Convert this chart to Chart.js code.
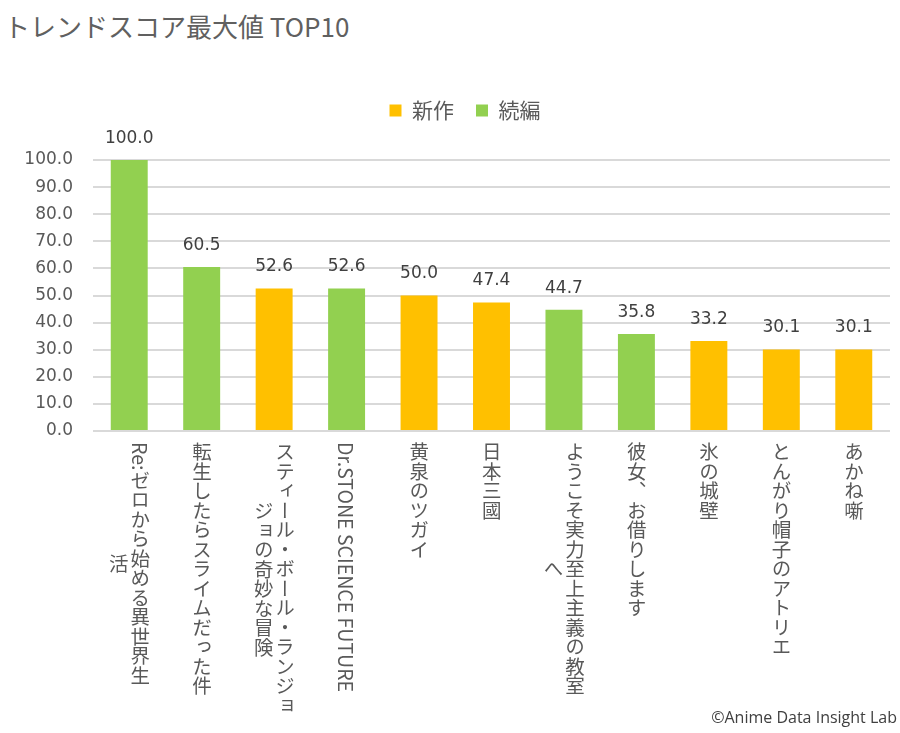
<!DOCTYPE html>
<html lang="ja">
<head>
<meta charset="utf-8">
<script src="https://cdn.jsdelivr.net/npm/chart.js@4"></script>
<style>
    html, body { margin: 0; padding: 0; background: #fff; }
    body { width: 900px; height: 733px; position: relative; overflow: hidden; font-family: "Noto Sans CJK JP", "Noto Sans", sans-serif; }
    #chart-wrap { position: absolute; left: 0; top: 0; width: 900px; height: 733px; }
    .title { position: absolute; left: 4px; top: 7px; font-size: 26px; color: #606060; white-space: nowrap; }
    .cat-label {
        position: absolute;
        top: 442px;
        writing-mode: vertical-rl;
        display: inline-block;
        white-space: nowrap;
        text-align: center;
        font-size: 19.5px;
        line-height: 1.1;
        color: #595959;
        transform: translateX(-50%);
    }
    .credit { position: absolute; right: 3px; top: 706px; font-size: 16px; color: #404040; font-family: "Open Sans", "Noto Sans", sans-serif; white-space: nowrap; }
</style>
</head>
<body>
<div class="title">トレンドスコア最大値 TOP10</div>
<div id="chart-wrap"><canvas id="chart" width="900" height="733"></canvas></div>
<div id="labels"></div>
<div class="credit">©Anime Data Insight Lab</div>

<script>
const categories = [
    ["Re:ゼロから始める異世界生", "活"],
    ["転生したらスライムだった件"],
    ["スティール・ボール・ランジョ", "ジョの奇妙な冒険"],
    ["Dr.STONE SCIENCE FUTURE"],
    ["黄泉のツガイ"],
    ["日本三國"],
    ["ようこそ実力至上主義の教室", "へ"],
    ["彼女、お借りします"],
    ["氷の城壁"],
    ["とんがり帽子のアトリエ"],
    ["あかね噺"],
];
const newSeries    = [null, null, 52.6, null, 50.0, 47.4, null, null, 33.2, 30.1, 30.1];
const sequelSeries = [100.0, 60.5, null, 52.6, null, null, 44.7, 35.8, null, null, null];
const yTicks = [0, 10, 20, 30, 40, 50, 60, 70, 80, 90, 100];

const ORANGE = "#FFC000";
const GREEN = "#92D050";
const TEXT = "#595959";

// legend: 下に余白を足して、少し右へずらす
const legendTweak = {
    id: "legendTweak",
    beforeInit(chart) {
        const legend = chart.legend;
        const fit = legend.fit;
        legend.fit = function () {
            fit.call(this);
            this.height += 29;
        };
        const draw = legend.draw;
        legend.draw = function () {
            this.ctx.save();
            this.ctx.translate(20, 0);
            draw.call(this);
            this.ctx.restore();
        };
    },
};

const valueLabels = {
    id: "valueLabels",
    afterDatasetsDraw(chart) {
        const ctx = chart.ctx;
        ctx.save();
        ctx.font = '17px "DejaVu Sans", sans-serif';
        ctx.fillStyle = "#404040";
        ctx.textAlign = "center";
        ctx.textBaseline = "bottom";
        chart.data.datasets.forEach((ds, di) => {
            const meta = chart.getDatasetMeta(di);
            meta.data.forEach((bar, i) => {
                const v = ds.data[i];
                if (v === null) return;
                ctx.fillText(v.toFixed(1), bar.x, bar.y - 13);
            });
        });
        ctx.restore();
    },
};

const chart = new Chart(document.getElementById("chart"), {
    type: "bar",
    data: {
        labels: categories.map(c => c.join("")),
        datasets: [
            { label: "新作", data: newSeries, backgroundColor: ORANGE },
            { label: "続編", data: sequelSeries, backgroundColor: GREEN },
        ],
    },
    options: {
        responsive: false,
        animation: false,
        layout: { padding: { top: 78, right: 10, left: 0, bottom: 0 } },
        datasets: { bar: { barPercentage: 0.51, categoryPercentage: 1, skipNull: true } },
        plugins: {
            legend: {
                position: "top",
                labels: {
                    boxWidth: 12,
                    boxHeight: 12,
                    padding: 22,
                    color: TEXT,
                    font: { size: 21, family: '"Noto Sans CJK JP", sans-serif' },
                },
            },
            tooltip: { enabled: false },
        },
        scales: {
            x: {
                stacked: true,
                grid: { display: false },
                border: { display: false },
                ticks: { display: false },
                afterFit(scale) { scale.height = 302; },
            },
            y: {
                stacked: true,
                min: 0,
                max: 100,
                afterBuildTicks(scale) { scale.ticks = yTicks.map(v => ({ value: v })); },
                afterFit(scale) { scale.width = 93; },
                grid: { color: "#d9d9d9", lineWidth: 2, drawTicks: false },
                border: { display: false },
                ticks: {
                    padding: 20,
                    color: TEXT,
                    font: { size: 17, family: '"DejaVu Sans", sans-serif' },
                    callback: v => Number(v).toFixed(1),
                },
            },
        },
    },
    plugins: [legendTweak, valueLabels],
});

// 縦書きのカテゴリラベル
const labelsEl = document.getElementById("labels");
labelsEl.innerHTML = categories.map((lines, i) => {
    const x = chart.scales.x.getPixelForValue(i);
    return `<div class="cat-label" style="left:${x}px">${lines.join("<br>")}</div>`;
}).join("");
</script>
</body>
</html>
